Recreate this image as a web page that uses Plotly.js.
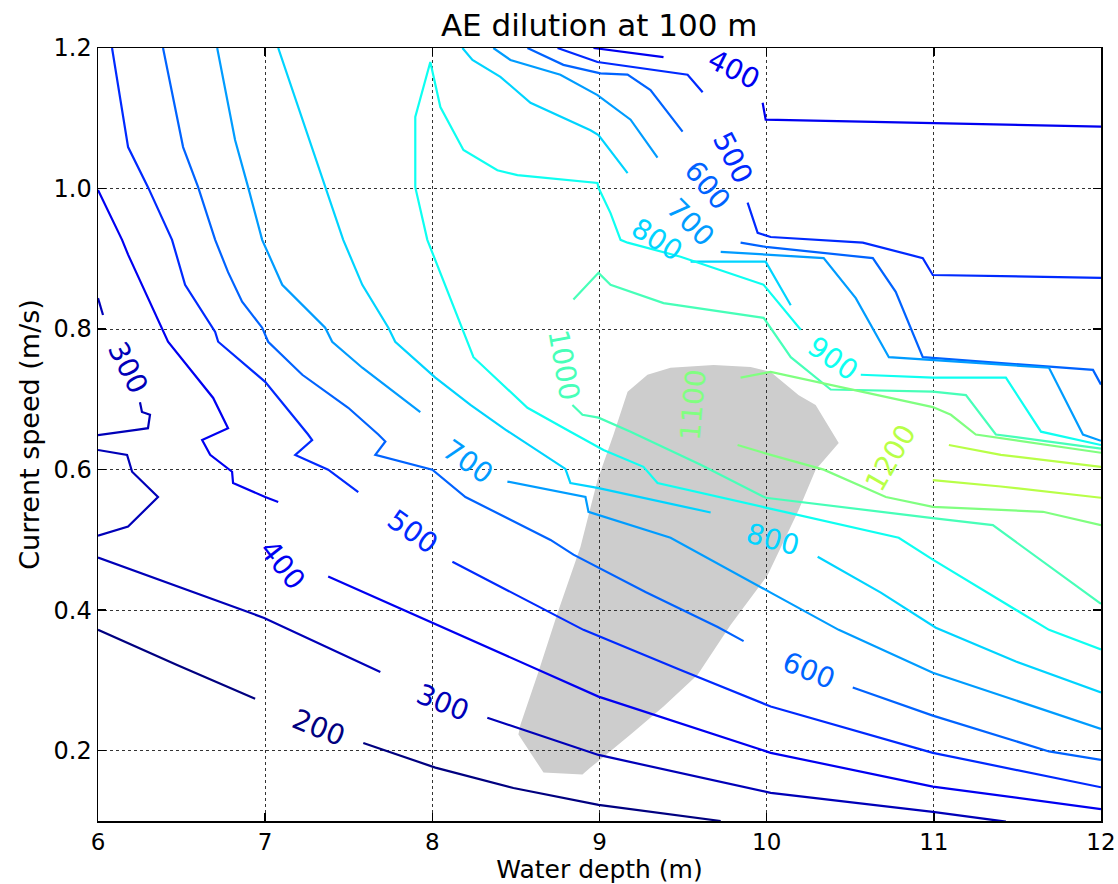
<!DOCTYPE html>
<html>
<head>
<meta charset="utf-8">
<script src="https://cdn.plot.ly/plotly-3.0.1.min.js"></script>
<style>
html,body{margin:0;padding:0;background:#fff;}
#chart{width:1118px;height:884px;}
</style>
</head>
<body>
<div id="chart"></div>
<script>
// Dilution contour lines (water depth in m, current speed in m/s)
const x200a = [6.000, 6.473, 6.940];
const y200a = [0.372, 0.322, 0.274];
const x200b = [7.587, 8.018, 8.485, 8.994, 9.725];
const y200b = [0.211, 0.176, 0.147, 0.123, 0.100];

const x300a = [6.000, 6.030];
const y300a = [0.844, 0.820];
const x300b = [6.251, 6.263, 6.311, 6.299, 6.240, 6.000];
const y300b = [0.696, 0.682, 0.678, 0.659, 0.657, 0.649];
const x300c = [6.000, 6.174, 6.204, 6.359, 6.180, 6.000];
const y300c = [0.628, 0.621, 0.597, 0.561, 0.519, 0.506];
const x300d = [6.000, 6.491, 6.994, 7.689];
const y300d = [0.475, 0.432, 0.389, 0.312];
const x300e = [8.329, 8.994, 10.024, 10.994, 11.431];
const y300e = [0.247, 0.194, 0.140, 0.113, 0.099];

const x400a = [6.000, 6.144, 6.180, 6.383, 6.419, 6.689, 6.778, 6.623, 6.671, 6.802, 6.808, 7.000, 7.078];
const y400a = [0.998, 0.927, 0.906, 0.802, 0.782, 0.702, 0.659, 0.642, 0.621, 0.597, 0.581, 0.561, 0.554];
const x400b = [7.377, 8.030, 8.994, 10.024, 10.994, 12.000];
const y400b = [0.448, 0.379, 0.277, 0.197, 0.149, 0.117];
const x400c = [8.964, 9.383];
const y400c = [1.200, 1.187];
const x400d = [9.976, 9.994, 12.000];
const y400d = [1.122, 1.098, 1.088];

const x500a = [6.084, 6.180, 6.299, 6.443, 6.521, 6.701, 6.719, 7.000, 7.257, 7.281, 7.180, 7.377, 7.557];
const y500a = [1.200, 1.059, 1.002, 0.927, 0.863, 0.796, 0.782, 0.725, 0.650, 0.642, 0.621, 0.600, 0.568];
const x500b = [8.120, 8.904, 9.485, 10.024, 10.994, 12.000];
const y500b = [0.469, 0.372, 0.315, 0.263, 0.197, 0.148];
const x500c = [8.749, 8.988, 9.527, 9.617];
const y500c = [1.200, 1.180, 1.162, 1.137];
const x500d = [9.886, 9.946, 10.024, 10.575, 10.934, 10.994, 12.000];
const y500d = [0.980, 0.937, 0.931, 0.923, 0.901, 0.877, 0.873];

const x600a = [6.389, 6.509, 6.599, 6.701, 6.778, 6.862, 6.982, 7.018, 7.222, 7.497, 7.677, 7.719, 7.659, 8.000, 8.198, 8.707, 8.844, 9.275, 9.707, 9.862];
const y600a = [1.200, 1.059, 1.002, 0.927, 0.881, 0.839, 0.802, 0.782, 0.735, 0.688, 0.650, 0.640, 0.621, 0.600, 0.561, 0.500, 0.479, 0.426, 0.376, 0.356];
const x600b = [10.515, 10.994, 11.689, 12.000];
const y600b = [0.290, 0.250, 0.199, 0.187];
const x600c = [8.569, 8.784, 9.006, 9.168, 9.305, 9.497];
const y600c = [1.200, 1.176, 1.164, 1.162, 1.140, 1.081];
const x600d = [9.844, 9.994, 10.635, 10.772, 10.934, 11.952, 12.000];
const y600d = [0.923, 0.917, 0.901, 0.853, 0.760, 0.742, 0.721];

const x700a = [6.713, 6.820, 6.898, 6.982, 7.102, 7.359, 7.401, 7.581, 7.928];
const y700a = [1.200, 1.069, 1.002, 0.927, 0.863, 0.802, 0.782, 0.745, 0.682];
const x700b = [8.449, 8.916, 8.934, 9.425, 10.024, 10.431, 10.994, 12.000];
const y700b = [0.583, 0.561, 0.540, 0.503, 0.425, 0.372, 0.311, 0.231];
const x700c = [8.365, 8.467, 8.766, 8.988, 9.186, 9.347];
const y700c = [1.200, 1.183, 1.162, 1.133, 1.098, 1.044];
const x700d = [9.725, 9.994, 10.341, 10.533, 10.731, 11.689, 11.892, 12.000];
const y700d = [0.910, 0.906, 0.901, 0.844, 0.760, 0.745, 0.650, 0.641];

const x800a = [7.078, 7.359, 7.467, 7.581, 7.737, 7.778, 8.018, 8.228, 8.437, 8.796, 8.826, 8.988, 9.665];
const y800a = [1.200, 1.002, 0.927, 0.863, 0.802, 0.782, 0.731, 0.692, 0.657, 0.601, 0.581, 0.574, 0.539];
const x800b = [10.305, 10.683, 11.012, 11.491, 12.000];
const y800b = [0.476, 0.425, 0.375, 0.327, 0.283];
const x800c = [8.180, 8.240, 8.407, 8.587, 8.946, 8.994, 9.168];
const y800c = [1.200, 1.183, 1.159, 1.122, 1.083, 1.076, 1.022];
const x800d = [9.545, 9.994, 10.144];
const y800d = [0.896, 0.896, 0.834];

const x900a = [12.000, 11.689, 10.994, 10.790, 9.994, 9.347, 9.263, 9.024, 8.826, 8.569, 8.246, 7.988, 7.970, 7.898, 7.898, 7.988,
               8.048, 8.186, 8.389, 8.509, 8.988, 8.994, 9.066, 9.126, 9.168, 9.485, 9.982, 10.204];
const y900a = [0.344, 0.372, 0.472, 0.503, 0.546, 0.581, 0.604, 0.628, 0.654, 0.688, 0.760, 0.916, 0.927, 1.002, 1.102, 1.180,
               1.116, 1.055, 1.026, 1.019, 1.008, 1.001, 0.965, 0.927, 0.923, 0.903, 0.863, 0.799];
const x900b = [10.563, 10.994, 11.431, 11.641, 12.000];
const y900b = [0.735, 0.731, 0.731, 0.654, 0.635];

const x1000a = [8.844, 8.994, 9.066, 9.383, 9.982, 10.144, 10.383, 10.994, 11.192, 11.371, 12.000];
const y1000a = [0.842, 0.880, 0.863, 0.837, 0.816, 0.760, 0.714, 0.711, 0.706, 0.650, 0.630];
const x1000b = [8.838, 8.898, 8.994, 9.186, 9.605, 9.994, 10.994, 11.353, 12.000];
const y1000b = [0.692, 0.678, 0.674, 0.654, 0.607, 0.560, 0.531, 0.521, 0.409];

const x1100a = [9.844, 10.024, 10.994, 11.102, 11.251, 12.000];
const y1100a = [0.731, 0.739, 0.689, 0.678, 0.650, 0.624];
const x1100b = [9.826, 10.024, 10.341, 10.713, 10.994, 11.653, 12.000];
const y1100b = [0.635, 0.621, 0.600, 0.561, 0.547, 0.540, 0.521];

const x1200a = [11.090, 11.401, 12.000];
const y1200a = [0.635, 0.621, 0.604];
const x1200b = [10.994, 11.401, 12.000];
const y1200b = [0.585, 0.576, 0.560];

// Each entry: level, x values, y values
const segments = [
  [200, x200a, y200a], [200, x200b, y200b],
  [300, x300a, y300a], [300, x300b, y300b], [300, x300c, y300c], [300, x300d, y300d], [300, x300e, y300e],
  [400, x400a, y400a], [400, x400b, y400b], [400, x400c, y400c], [400, x400d, y400d],
  [500, x500a, y500a], [500, x500b, y500b], [500, x500c, y500c], [500, x500d, y500d],
  [600, x600a, y600a], [600, x600b, y600b], [600, x600c, y600c], [600, x600d, y600d],
  [700, x700a, y700a], [700, x700b, y700b], [700, x700c, y700c], [700, x700d, y700d],
  [800, x800a, y800a], [800, x800b, y800b], [800, x800c, y800c], [800, x800d, y800d],
  [900, x900a, y900a], [900, x900b, y900b],
  [1000, x1000a, y1000a], [1000, x1000b, y1000b],
  [1100, x1100a, y1100a], [1100, x1100b, y1100b],
  [1200, x1200a, y1200a], [1200, x1200b, y1200b]
];

// Inline contour labels
const labelLevel = [200, 300, 400, 500, 300, 700, 800, 600, 1000, 1100, 900, 1200, 400, 500, 600, 700, 800];
const labelX = [7.317, 8.060, 7.102, 7.880, 6.180, 8.210, 10.036, 10.251, 8.784, 9.563, 10.395, 10.743, 9.802, 9.796, 9.647, 9.545, 9.341];
const labelY = [0.233, 0.268, 0.465, 0.512, 0.746, 0.611, 0.500, 0.314, 0.749, 0.692, 0.758, 0.617, 1.169, 1.044, 1.005, 0.952, 0.927];
const labelRotation = [22, 22, 52, 35, 63, 35, 15, 22, 80, -85, 35, -60, 27, 63, 50, 45, 32];

// Shaded zone outline
const zoneX = [8.515, 8.665, 8.898, 8.946, 9.186, 9.383, 9.587, 9.784, 10.006, 10.192, 10.293, 10.431, 10.293, 10.192, 10.024, 9.904, 9.683, 9.425, 9.287, 9.168, 9.084, 8.988, 8.886, 8.749, 8.629, 8.527];
const zoneY = [0.223, 0.169, 0.166, 0.176, 0.223, 0.263, 0.308, 0.379, 0.450, 0.543, 0.600, 0.638, 0.692, 0.706, 0.739, 0.746, 0.749, 0.745, 0.735, 0.711, 0.650, 0.585, 0.490, 0.396, 0.308, 0.237];

function jet(t) {
  const c = v => Math.round(255 * Math.max(0, Math.min(1, v)));
  return 'rgb(' + c(1.5 - Math.abs(4 * t - 3)) + ',' + c(1.5 - Math.abs(4 * t - 2)) + ',' + c(1.5 - Math.abs(4 * t - 1)) + ')';
}
function levelColor(v) { return jet((v - 200) / 1800); }

const FONT = 'DejaVu Sans, Bitstream Vera Sans, sans-serif';

const traces = segments.map(s => ({
  type: 'scatter', mode: 'lines', x: s[1], y: s[2],
  line: {color: levelColor(s[0]), width: 2.2},
  hoverinfo: 'skip', showlegend: false
}));

let zonePath = '';
zoneX.forEach((x, i) => { zonePath += (i === 0 ? 'M' : 'L') + x + ',' + zoneY[i]; });
zonePath += 'Z';

const annotations = labelLevel.map((v, i) => ({
  x: labelX[i], y: labelY[i], xref: 'x', yref: 'y',
  text: String(v), showarrow: false, textangle: labelRotation[i],
  font: {family: FONT, size: 28, color: levelColor(v)}
}));

const axisStyle = {
  showline: true, mirror: 'ticks', linecolor: '#000', linewidth: 1.5,
  ticks: 'inside', ticklen: 8, tickwidth: 1.5, tickcolor: '#000',
  showgrid: true, gridcolor: '#333', griddash: 'dot', gridwidth: 1,
  zeroline: false, tickfont: {family: FONT, size: 24, color: '#000'}
};

const layout = {
  width: 1118, height: 884,
  margin: {l: 98, r: 17, t: 48, b: 63},
  paper_bgcolor: '#fff', plot_bgcolor: '#fff',
  title: {text: 'AE dilution at 100 m', x: 0.536, xanchor: 'center', y: 0.972, yanchor: 'middle',
          font: {family: FONT, size: 31, color: '#000'}},
  xaxis: Object.assign({}, axisStyle, {
    range: [6, 12], dtick: 1, tick0: 6,
    tickfont: {family: FONT, size: 23, color: '#000'},
    title: {text: 'Water depth (m)', font: {family: FONT, size: 25, color: '#000'}, standoff: 7}
  }),
  yaxis: Object.assign({}, axisStyle, {
    range: [0.1, 1.2], dtick: 0.2, tick0: 0.2, tickformat: '.1f',
    title: {text: 'Current speed (m/s)', font: {family: FONT, size: 27, color: '#000'}, standoff: 6}
  }),
  shapes: [{type: 'path', path: zonePath, xref: 'x', yref: 'y', layer: 'below',
            fillcolor: '#cdcdcd', line: {width: 0}}],
  annotations: annotations
};

Plotly.newPlot('chart', traces, layout, {staticPlot: true, displayModeBar: false});
</script>
</body>
</html>
